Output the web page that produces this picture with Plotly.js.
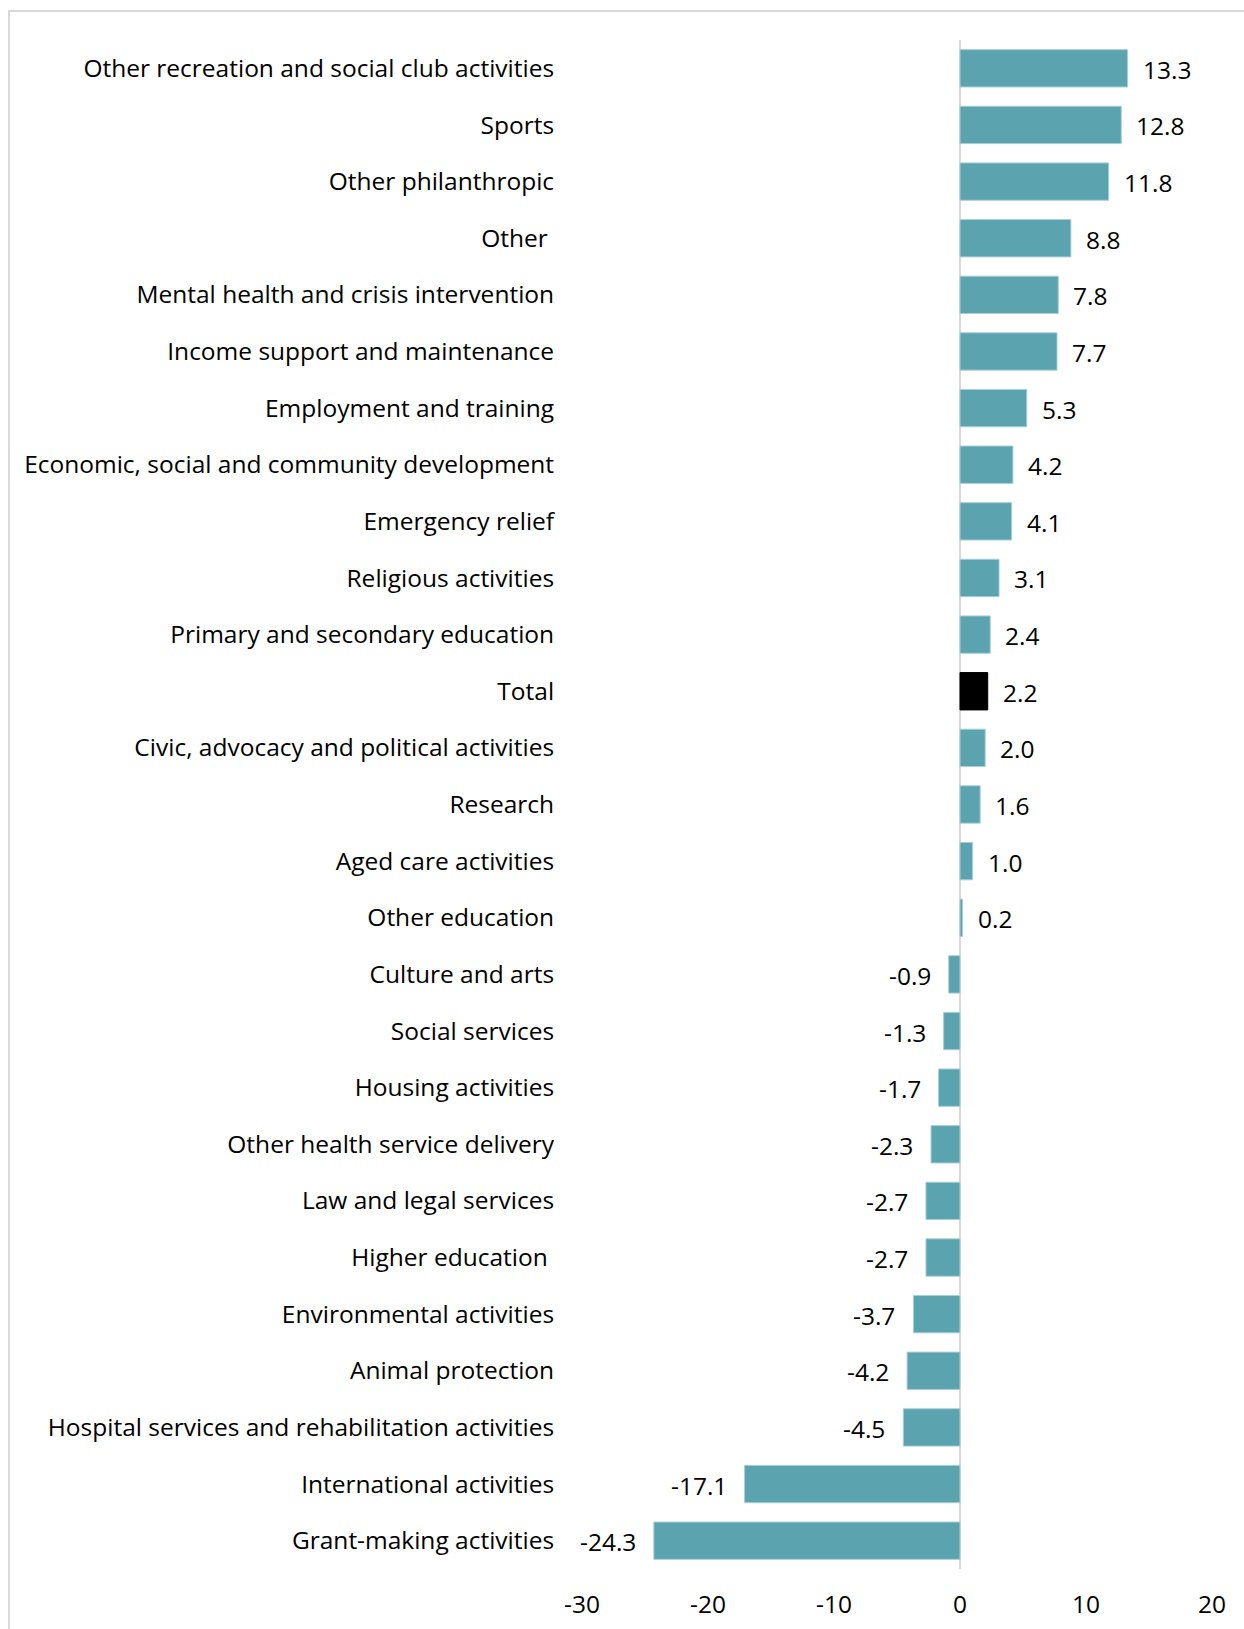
<!DOCTYPE html>
<html>
<head>
<meta charset="utf-8">
<script src="https://cdn.plot.ly/plotly-3.0.1.min.js"></script>
<style>
  html, body { margin: 0; padding: 0; background: #fff; }
  #wrap { position: relative; width: 1244px; height: 1629px; overflow: hidden; }
  #chart { position: absolute; left: 0; top: 0; width: 1244px; height: 1629px; }
  #frame { position: absolute; left: 8px; top: 10px; width: 1300px; height: 1700px;
           border: 2px solid #d9d9d9; box-sizing: border-box; pointer-events: none; }
</style>
</head>
<body>
<div id="wrap">
  <div id="chart"></div>
  <div id="frame"></div>
</div>
<script>
const categories = [
  "Other recreation and social club activities",
  "Sports",
  "Other philanthropic",
  "Other\u00A0",
  "Mental health and crisis intervention",
  "Income support and maintenance",
  "Employment and training",
  "Economic, social and community development",
  "Emergency relief",
  "Religious activities",
  "Primary and secondary education",
  "Total",
  "Civic, advocacy and political activities",
  "Research",
  "Aged care activities",
  "Other education",
  "Culture and arts",
  "Social services",
  "Housing activities",
  "Other health service delivery",
  "Law and legal services",
  "Higher education\u00A0",
  "Environmental activities",
  "Animal protection",
  "Hospital services and rehabilitation activities",
  "International activities",
  "Grant-making activities"
];
const values = [13.3, 12.8, 11.8, 8.8, 7.8, 7.7, 5.3, 4.2, 4.1, 3.1, 2.4, 2.2, 2.0, 1.6, 1.0, 0.2,
  -0.9, -1.3, -1.7, -2.3, -2.7, -2.7, -3.7, -4.2, -4.5, -17.1, -24.3];
const xTicks = [-30, -20, -10, 0, 10, 20];

const TEAL = "#5BA3AF";
const barColors = categories.map(c => c === "Total" ? "#000000" : TEAL);
const lineColors = categories.map(c => c === "Total" ? "#000000" : "#a9d0d6");

const FONT = "'Open Sans', Lato, sans-serif";
const FS = 24.5;

const annotations = values.map((v, i) => ({
  x: v, y: categories[i], xref: "x", yref: "y",
  text: v.toFixed(1),
  showarrow: false,
  xanchor: v >= 0 ? "left" : "right",
  xshift: v >= 0 ? 13 : -16,
  yshift: -1,
  font: { family: FONT, size: FS, color: "#000" }
}));

const trace = {
  type: "bar",
  orientation: "h",
  x: values,
  y: categories,
  marker: { color: barColors, line: { color: lineColors, width: 1 } },
  hoverinfo: "x+y"
};

const layout = {
  width: 1244, height: 1629,
  margin: { l: 582, r: 32, t: 40, b: 60 },
  paper_bgcolor: "#ffffff",
  plot_bgcolor: "#ffffff",
  showlegend: false,
  bargap: 0.34,
  font: { family: FONT, size: FS, color: "#000" },
  xaxis: {
    range: [-30, 20],
    tickvals: xTicks,
    ticktext: xTicks.map(String),
    showgrid: false,
    zeroline: true,
    zerolinecolor: "#d9d9d9",
    zerolinewidth: 2,
    showline: false,
    ticks: "outside",
    ticklen: 14,
    tickcolor: "rgba(0,0,0,0)",
    tickfont: { family: FONT, size: FS, color: "#000" }
  },
  yaxis: {
    type: "category",
    autorange: "reversed",
    showgrid: false,
    zeroline: false,
    showline: false,
    ticks: "outside",
    ticklen: 22,
    tickcolor: "rgba(0,0,0,0)",
    tickfont: { family: FONT, size: FS, color: "#000" }
  },
  annotations: annotations
};

Plotly.newPlot("chart", [trace], layout, { displayModeBar: false, staticPlot: true });
</script>
</body>
</html>
